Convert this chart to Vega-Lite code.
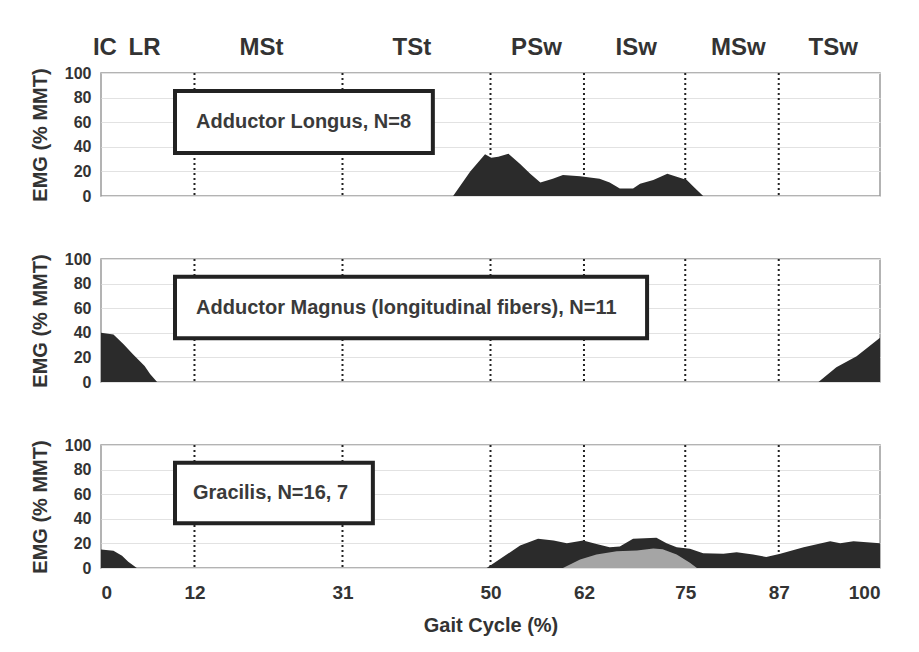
{
  "$schema": "https://vega.github.io/schema/vega-lite/v6.json",
  "padding": {"left": 29, "top": 35, "right": 10, "bottom": 5},
  "background": "white",
  "spacing": 45,
  "config": {
    "view": {"stroke": "#9a9a9a", "strokeWidth": 1.5},
    "font": "Liberation Sans, Arial, sans-serif",
    "axis": {"labelOverlap": false},
    "axisY": {"labelOverlap": false, "tickCount": 10, "grid": true, "gridColor": "#e2e2e2", "ticks": false, "domain": false,
              "labelFontSize": 16, "labelFontWeight": "bold", "labelColor": "#333", "labelPadding": 10,
              "titleFontSize": 20, "titleFontWeight": "bold", "titleColor": "#333", "titlePadding": 14}
  },
  "datasets": {
    "lines": [{"pct": 12}, {"pct": 31}, {"pct": 50}, {"pct": 62}, {"pct": 75}, {"pct": 87}],
    "phases": [
      {"pct": 0.5, "y": 120, "phase": "IC"},
      {"pct": 5.6, "y": 120, "phase": "LR"},
      {"pct": 20.6, "y": 120, "phase": "MSt"},
      {"pct": 39.9, "y": 120, "phase": "TSt"},
      {"pct": 55.9, "y": 120, "phase": "PSw"},
      {"pct": 68.7, "y": 120, "phase": "ISw"},
      {"pct": 81.8, "y": 120, "phase": "MSw"},
      {"pct": 94, "y": 120, "phase": "TSw"}
    ],
    "boxes": [
      {"panel": "al", "x1": 9.5, "x2": 42.6, "y1": 35, "y2": 85.4, "tx": 12.2, "ty": 60, "label": "Adductor Longus, N=8"},
      {"panel": "am", "x1": 9.5, "x2": 70.1, "y1": 35.5, "y2": 85.5, "tx": 12.2, "ty": 60, "label": "Adductor Magnus (longitudinal fibers), N=11"},
      {"panel": "gr", "x1": 9.5, "x2": 34.9, "y1": 36.3, "y2": 85.5, "tx": 11.8, "ty": 61, "label": "Gracilis, N=16, 7"}
    ],
    "al": [
      {"pct": 0, "emg": 0}, {"pct": 45.2, "emg": 0}, {"pct": 47.4, "emg": 20}, {"pct": 49.3, "emg": 34},
      {"pct": 49.7, "emg": 32.5}, {"pct": 50.1, "emg": 31}, {"pct": 51, "emg": 32}, {"pct": 52.3, "emg": 34.4},
      {"pct": 53.8, "emg": 26}, {"pct": 55.1, "emg": 18}, {"pct": 56.4, "emg": 11}, {"pct": 58, "emg": 14},
      {"pct": 59.3, "emg": 17}, {"pct": 61.5, "emg": 16}, {"pct": 64, "emg": 14}, {"pct": 65.3, "emg": 11},
      {"pct": 66.6, "emg": 6}, {"pct": 68.3, "emg": 6}, {"pct": 69.2, "emg": 10}, {"pct": 70.9, "emg": 13},
      {"pct": 72.7, "emg": 18}, {"pct": 73.7, "emg": 16}, {"pct": 75.2, "emg": 13}, {"pct": 76, "emg": 8},
      {"pct": 77.3, "emg": 0}, {"pct": 100, "emg": 0}
    ],
    "am": [
      {"pct": 0, "emg": 40}, {"pct": 1.6, "emg": 38.7}, {"pct": 2.9, "emg": 30.6}, {"pct": 4.1, "emg": 22.6},
      {"pct": 5.6, "emg": 13}, {"pct": 6.3, "emg": 6.5}, {"pct": 7.2, "emg": 0}, {"pct": 92.1, "emg": 0},
      {"pct": 94.4, "emg": 12}, {"pct": 97, "emg": 21}, {"pct": 100, "emg": 36}
    ],
    "grdark": [
      {"pct": 0, "emg": 15}, {"pct": 1.6, "emg": 14}, {"pct": 2.7, "emg": 10}, {"pct": 3.5, "emg": 5},
      {"pct": 4.6, "emg": 0}, {"pct": 49.5, "emg": 0}, {"pct": 51.6, "emg": 8.9}, {"pct": 53.8, "emg": 18.3},
      {"pct": 56.1, "emg": 23.7}, {"pct": 58.1, "emg": 22.4}, {"pct": 59.8, "emg": 20.2}, {"pct": 61.9, "emg": 22.4},
      {"pct": 63.6, "emg": 19.6}, {"pct": 65.3, "emg": 16.9}, {"pct": 66.6, "emg": 17.5}, {"pct": 68.3, "emg": 23.7},
      {"pct": 71.3, "emg": 24.5}, {"pct": 72.6, "emg": 20.2}, {"pct": 73.9, "emg": 16.9}, {"pct": 75.6, "emg": 15.6},
      {"pct": 77.3, "emg": 12}, {"pct": 79.9, "emg": 11.5}, {"pct": 81.6, "emg": 12.9}, {"pct": 83.7, "emg": 11},
      {"pct": 85.4, "emg": 8.9}, {"pct": 87.2, "emg": 11.5}, {"pct": 90.2, "emg": 16.9}, {"pct": 93.6, "emg": 21.8},
      {"pct": 94.9, "emg": 20.2}, {"pct": 96.6, "emg": 21.8}, {"pct": 100, "emg": 20.2}
    ],
    "grlight": [
      {"pct": 59.3, "emg": 0}, {"pct": 61.5, "emg": 7}, {"pct": 63.6, "emg": 11}, {"pct": 66.2, "emg": 13.7},
      {"pct": 68.8, "emg": 14.2}, {"pct": 70.9, "emg": 15.9}, {"pct": 72.1, "emg": 15.3}, {"pct": 73.9, "emg": 11},
      {"pct": 75.6, "emg": 4.3}, {"pct": 76.5, "emg": 0}
    ]
  },
  "vconcat": [
    {
      "width": 779, "height": 123,
      "layer": [
        {"data": {"name": "lines"}, "mark": {"type": "rule", "strokeDash": [2, 3], "strokeWidth": 2, "color": "#222"},
         "encoding": {"x": {"field": "pct", "type": "quantitative", "scale": {"domain": [0, 100]}, "axis": null}}},
        {"data": {"name": "al"}, "mark": {"type": "area", "color": "#2b2b2b"},
         "encoding": {
           "x": {"field": "pct", "type": "quantitative", "scale": {"domain": [0, 100]}, "axis": null},
           "y": {"field": "emg", "type": "quantitative", "scale": {"domain": [0, 100]},
                 "axis": {"values": [0, 20, 40, 60, 80, 100], "tickCount": 10, "labelOverlap": false, "title": "EMG (% MMT)"}}
         }},
        {"data": {"name": "boxes"}, "transform": [{"filter": "datum.panel == 'al'"}],
         "mark": {"type": "rect", "fill": "white", "stroke": "#222", "strokeWidth": 4},
         "encoding": {"x": {"field": "x1", "type": "quantitative", "axis": null}, "x2": {"field": "x2"}, "y": {"field": "y1", "type": "quantitative"}, "y2": {"field": "y2"}}},
        {"data": {"name": "boxes"}, "transform": [{"filter": "datum.panel == 'al'"}],
         "mark": {"type": "text", "align": "left", "baseline": "middle", "fontSize": 20, "fontWeight": "bold", "color": "#3a3a3a"},
         "encoding": {"x": {"field": "tx", "type": "quantitative", "axis": null}, "y": {"field": "ty", "type": "quantitative"}, "text": {"field": "label"}}},
        {"data": {"name": "phases"},
         "mark": {"type": "text", "align": "center", "baseline": "middle", "fontSize": 24, "fontWeight": "bold", "color": "#333"},
         "encoding": {"x": {"field": "pct", "type": "quantitative", "axis": null}, "y": {"field": "y", "type": "quantitative"}, "text": {"field": "phase"}}}
      ]
    },
    {
      "width": 779, "height": 123,
      "layer": [
        {"data": {"name": "lines"}, "mark": {"type": "rule", "strokeDash": [2, 3], "strokeWidth": 2, "color": "#222"},
         "encoding": {"x": {"field": "pct", "type": "quantitative", "scale": {"domain": [0, 100]}, "axis": null}}},
        {"data": {"name": "am"}, "mark": {"type": "area", "color": "#2b2b2b"},
         "encoding": {
           "x": {"field": "pct", "type": "quantitative", "scale": {"domain": [0, 100]}, "axis": null},
           "y": {"field": "emg", "type": "quantitative", "scale": {"domain": [0, 100]},
                 "axis": {"values": [0, 20, 40, 60, 80, 100], "tickCount": 10, "labelOverlap": false, "title": "EMG (% MMT)"}}
         }},
        {"data": {"name": "boxes"}, "transform": [{"filter": "datum.panel == 'am'"}],
         "mark": {"type": "rect", "fill": "white", "stroke": "#222", "strokeWidth": 4},
         "encoding": {"x": {"field": "x1", "type": "quantitative", "axis": null}, "x2": {"field": "x2"}, "y": {"field": "y1", "type": "quantitative"}, "y2": {"field": "y2"}}},
        {"data": {"name": "boxes"}, "transform": [{"filter": "datum.panel == 'am'"}],
         "mark": {"type": "text", "align": "left", "baseline": "middle", "fontSize": 20, "fontWeight": "bold", "color": "#3a3a3a"},
         "encoding": {"x": {"field": "tx", "type": "quantitative", "axis": null}, "y": {"field": "ty", "type": "quantitative"}, "text": {"field": "label"}}}
      ]
    },
    {
      "width": 779, "height": 123,
      "layer": [
        {"data": {"name": "lines"}, "mark": {"type": "rule", "strokeDash": [2, 3], "strokeWidth": 2, "color": "#222"},
         "encoding": {"x": {"field": "pct", "type": "quantitative", "scale": {"domain": [0, 100]},
                            "axis": {"values": [0, 12, 31, 50, 62, 75, 87, 100], "tickCount": 20, "labelOverlap": false, "title": "Gait Cycle (%)", "grid": false, "ticks": false, "domain": false,
                                     "labelFontSize": 19, "labelFontWeight": "bold", "labelColor": "#333", "labelPadding": 15,
                                     "titleFontSize": 20, "titleFontWeight": "bold", "titleColor": "#333", "titlePadding": 13}}}},
        {"data": {"name": "grdark"}, "mark": {"type": "area", "color": "#2b2b2b"},
         "encoding": {
           "x": {"field": "pct", "type": "quantitative"},
           "y": {"field": "emg", "type": "quantitative", "scale": {"domain": [0, 100]},
                 "axis": {"values": [0, 20, 40, 60, 80, 100], "tickCount": 10, "labelOverlap": false, "title": "EMG (% MMT)"}}
         }},
        {"data": {"name": "grlight"}, "mark": {"type": "area", "color": "#a5a5a5"},
         "encoding": {"x": {"field": "pct", "type": "quantitative"}, "y": {"field": "emg", "type": "quantitative"}}},
        {"data": {"name": "boxes"}, "transform": [{"filter": "datum.panel == 'gr'"}],
         "mark": {"type": "rect", "fill": "white", "stroke": "#222", "strokeWidth": 4},
         "encoding": {"x": {"field": "x1", "type": "quantitative"}, "x2": {"field": "x2"}, "y": {"field": "y1", "type": "quantitative"}, "y2": {"field": "y2"}}},
        {"data": {"name": "boxes"}, "transform": [{"filter": "datum.panel == 'gr'"}],
         "mark": {"type": "text", "align": "left", "baseline": "middle", "fontSize": 20, "fontWeight": "bold", "color": "#3a3a3a"},
         "encoding": {"x": {"field": "tx", "type": "quantitative"}, "y": {"field": "ty", "type": "quantitative"}, "text": {"field": "label"}}}
      ]
    }
  ]
}
